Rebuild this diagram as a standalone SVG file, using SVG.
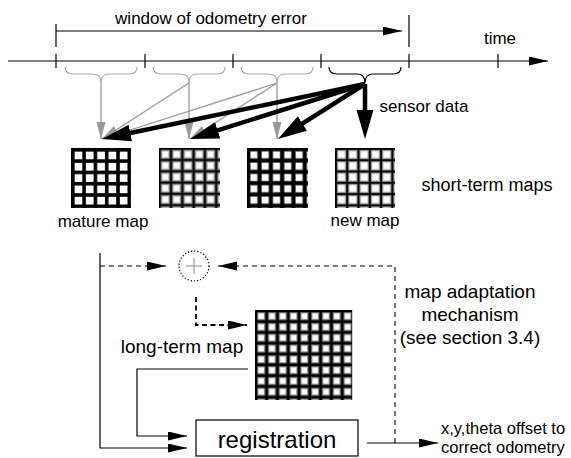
<svg xmlns="http://www.w3.org/2000/svg" width="571" height="458" viewBox="0 0 571 458">
  <style>
    text { font-family: "Liberation Sans", Arial, sans-serif; fill: #000; }
    .ln { stroke: #000; stroke-width: 1.2; fill: none; }
    .gray { stroke: #999; stroke-width: 1.3; fill: none; }
    .brace-g { stroke: #aaa; stroke-width: 1.2; fill: none; }
    .brace-k { stroke: #000; stroke-width: 1.2; fill: none; }
    .thick { stroke: #000; stroke-width: 4.5; fill: none; }
    .dash { stroke: #000; stroke-width: 1.1; fill: none; stroke-dasharray: 5 4; }
    .dash2 { stroke: #000; stroke-width: 1.8; fill: none; stroke-dasharray: 5 3.5; }
  </style>
  <defs>
    <marker id="ah" markerUnits="userSpaceOnUse" markerWidth="20" markerHeight="10" refX="19" refY="4.5" orient="auto">
      <path d="M0,0 L19,4.5 L0,9 z" fill="#000"/>
    </marker>
    <marker id="ahg" markerUnits="userSpaceOnUse" markerWidth="18" markerHeight="10" refX="17" refY="4.5" orient="auto">
      <path d="M0,0 L17,4.5 L0,9 z" fill="#999"/>
    </marker>
    <marker id="ahb" markerUnits="userSpaceOnUse" markerWidth="30" markerHeight="18" refX="16" refY="8.5" orient="auto">
      <path d="M0,0 L29,8.5 L0,17 z" fill="#000"/>
    </marker>
    <!-- map textures: grid tiles with sharp or soft line edges -->
    <pattern id="pSharp" patternUnits="userSpaceOnUse" width="11.3" height="11.3">
      <rect width="11.3" height="11.3" fill="#000"/>
      <rect x="3.6" y="3.6" width="7.7" height="7.7" fill="#fff"/>
    </pattern>
    <pattern id="pSoft" patternUnits="userSpaceOnUse" width="11.3" height="11.3">
      <rect width="11.3" height="11.3" fill="#000"/>
      <rect x="1.4" y="1.4" width="9.9" height="9.9" fill="#444"/>
      <rect x="2.2" y="2.2" width="8.3" height="8.3" fill="#9a9a9a"/>
      <rect x="3.0" y="3.0" width="6.7" height="6.7" fill="#dcdcdc"/>
      <rect x="3.8" y="3.8" width="5.1" height="5.1" fill="#fff"/>
    </pattern>
    <pattern id="pMid" patternUnits="userSpaceOnUse" width="11.3" height="11.3">
      <rect width="11.3" height="11.3" fill="#000"/>
      <rect x="3.1" y="3.1" width="7.6" height="7.6" fill="#999"/>
      <rect x="3.8" y="3.8" width="6.2" height="6.2" fill="#fff"/>
    </pattern>
    <pattern id="pNew" patternUnits="userSpaceOnUse" width="11.3" height="11.3">
      <rect width="11.3" height="11.3" fill="#000"/>
      <rect x="1.8" y="1.8" width="9.5" height="9.5" fill="#777"/>
      <rect x="2.6" y="2.6" width="7.9" height="7.9" fill="#c4c4c4"/>
      <rect x="3.4" y="3.4" width="6.3" height="6.3" fill="#fff"/>
    </pattern>
    <pattern id="pLong" patternUnits="userSpaceOnUse" width="10.8" height="10.8">
      <rect width="10.8" height="10.8" fill="#000"/>
      <rect x="2.0" y="2.0" width="8.4" height="8.4" fill="#555"/>
      <rect x="2.8" y="2.8" width="6.8" height="6.8" fill="#b0b0b0"/>
      <rect x="3.6" y="3.6" width="5.2" height="5.2" fill="#fff"/>
    </pattern>
  </defs>

  <rect width="571" height="458" fill="#fff"/>

  <!-- time axis with ticks -->
  <g id="time-axis">
    <line class="ln" x1="8" y1="61" x2="548" y2="61" marker-end="url(#ah)"/>
    <path class="ln" d="M56,54 V68 M145,54 V68 M233,54 V68 M321,54 V68 M409,54 V68 M498,54 V68"/>
    <text x="500" y="44" font-size="17" text-anchor="middle">time</text>
  </g>

  <!-- window of odometry error -->
  <g id="window">
    <path class="ln" d="M56,24 V47 M409,15 V47"/>
    <line class="ln" x1="56" y1="31" x2="402" y2="31" marker-end="url(#ah)"/>
    <text x="211" y="24" font-size="17" text-anchor="middle">window of odometry error</text>
  </g>

  <!-- braces grouping each interval -->
  <g id="braces">
    <path class="brace-g" d="M65,67 Q65,74 73,74 L93,74 Q101,74 101,83 Q101,74 109,74 L129,74 Q137,74 137,67"/>
    <path class="brace-g" d="M153,67 Q153,74 161,74 L181,74 Q189,74 189,83 Q189,74 197,74 L217,74 Q225,74 225,67"/>
    <path class="brace-g" d="M241,67 Q241,74 249,74 L269,74 Q277,74 277,83 Q277,74 285,74 L305,74 Q313,74 313,67"/>
    <path class="brace-k" d="M329,67 Q329,74 337,74 L357,74 Q365,74 365,83 Q365,74 373,74 L393,74 Q401,74 401,67"/>
  </g>

  <!-- short-term maps -->
  <g id="map-mature" transform="translate(71,148)">
    <rect width="60" height="60" fill="url(#pSharp)"/>
  </g>
  <g id="map-2" transform="translate(159,148)">
    <rect width="61" height="60" fill="url(#pSoft)"/>
  </g>
  <g id="map-3" transform="translate(247,148)">
    <rect width="61" height="60" fill="url(#pMid)"/>
  </g>
  <g id="map-new" transform="translate(335,148)">
    <rect width="60" height="60" fill="url(#pNew)"/>
  </g>

  <!-- long-term map -->
  <g id="map-long" transform="translate(255,310)">
    <rect width="97.2" height="90" fill="url(#pLong)"/>
  </g>

  <!-- combining node -->
  <g id="sum">
    <circle cx="194" cy="266" r="15" fill="none" stroke="#000" stroke-width="1.2" stroke-dasharray="1.2 2"/>
    <path d="M186,266 H202 M194,258 V274" stroke="#888" stroke-width="1" fill="none"/>
  </g>

  <!-- registration block -->
  <g id="registration">
    <rect x="196" y="420" width="162" height="36" fill="#fff" stroke="#000" stroke-width="1.2"/>
    <text x="277" y="448" font-size="24" text-anchor="middle">registration</text>
  </g>

  <!-- connectors -->
  <g id="connectors">
    <!-- older intervals feed earlier maps -->
    <line class="gray" x1="101" y1="83" x2="101" y2="139" marker-end="url(#ahg)"/>
    <line class="gray" x1="189" y1="83" x2="189" y2="139" marker-end="url(#ahg)"/>
    <line class="gray" x1="189" y1="83" x2="102" y2="139" marker-end="url(#ahg)"/>
    <line class="gray" x1="277" y1="83" x2="277" y2="139" marker-end="url(#ahg)"/>
    <line class="gray" x1="277" y1="83" x2="102" y2="139" marker-end="url(#ahg)"/>
    <line class="gray" x1="277" y1="83" x2="190" y2="139" marker-end="url(#ahg)"/>
    <!-- current sensor data to all maps -->
    <line class="thick" x1="365" y1="84" x2="114.7" y2="136.3" marker-end="url(#ahb)"/>
    <line class="thick" x1="365" y1="84" x2="202.4" y2="135.1" marker-end="url(#ahb)"/>
    <line class="thick" x1="365" y1="84" x2="288.9" y2="132.1" marker-end="url(#ahb)"/>
    <line class="thick" x1="365" y1="84" x2="365" y2="126" marker-end="url(#ahb)"/>

    <!-- mature map path down to registration and to the sum -->
    <path class="ln" d="M100,253 V448 H187" marker-end="url(#ah)"/>
    <line class="dash" x1="100" y1="266" x2="166" y2="266" marker-end="url(#ah)"/>
    <!-- feedback from registration output -->
    <path class="dash" d="M395,443 V266 H218" marker-end="url(#ah)"/>
    <!-- sum into long-term map -->
    <path class="dash2" d="M196,297 V325 H247" marker-end="url(#ah)"/>
    <!-- long-term map into registration -->
    <path class="ln" d="M248,369 H137 V436 H187" marker-end="url(#ah)"/>
    <!-- registration output -->
    <line class="ln" x1="367" y1="443" x2="438" y2="443" marker-end="url(#ah)"/>
  </g>

  <!-- labels -->
  <g id="labels">
    <text x="424" y="112" font-size="17" text-anchor="middle">sensor data</text>
    <text x="487" y="191" font-size="18" text-anchor="middle">short-term maps</text>
    <text x="103" y="227" font-size="17" text-anchor="middle">mature map</text>
    <text x="365" y="226" font-size="17" text-anchor="middle">new map</text>
    <text x="182" y="353" font-size="19" text-anchor="middle">long-term map</text>
    <text x="470" y="298" font-size="19" text-anchor="middle">map adaptation</text>
    <text x="470" y="321" font-size="19" text-anchor="middle">mechanism</text>
    <text x="470" y="344" font-size="19" text-anchor="middle">(see section 3.4)</text>
    <text x="441" y="434" font-size="16.5">x,y,theta offset to</text>
    <text x="441" y="453" font-size="16.5">correct odometry</text>
  </g>
</svg>
